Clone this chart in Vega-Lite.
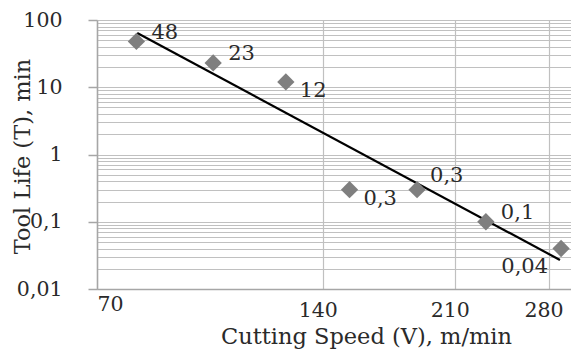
{
  "$schema": "https://vega.github.io/schema/vega-lite/v6.json",
  "autosize": {"type": "none"},
  "padding": {"left": 97, "top": 20, "right": 0, "bottom": 62},
  "width": 474,
  "height": 269,
  "background": "white",
  "config": {
    "view": {"stroke": null},
    "font": "DejaVu Serif",
    "text": {"font": "DejaVu Serif"},
    "axis": {"labelFont": "DejaVu Serif", "titleFont": "DejaVu Serif", "labelColor": "#2a2a2a", "titleColor": "#2a2a2a", "titleFontWeight": "normal"}
  },
  "data": {
    "values": [
      {"V": 79, "T": 48, "label": "48"},
      {"V": 100, "T": 23, "label": "23"},
      {"V": 125, "T": 12, "label": "12"},
      {"V": 152, "T": 0.3, "label": "0,3"},
      {"V": 187, "T": 0.3, "label": "0,3"},
      {"V": 231, "T": 0.1, "label": "0,1"},
      {"V": 291, "T": 0.04, "label": "0,04"}
    ]
  },
  "encoding": {
    "x": {
      "field": "V", "type": "quantitative",
      "scale": {"type": "log", "domain": [70, 300], "nice": false, "zero": false},
      "axis": {
        "title": "Cutting Speed (V), m/min",
        "values": [70, 140, 210, 280],
        "format": "d",
        "grid": true, "gridColor": "#c0c0c0", "gridWidth": 1.2,
        "ticks": false, "tickSize": 0,
        "domainColor": "#a6a6a6", "domainWidth": 1.5,
        "labelFont": "DejaVu Serif", "titleFont": "DejaVu Serif",
        "labelFontSize": 20.5, "labelOverlap": false,
        "labelPadding": {"condition": {"test": "datum.value == 70", "value": 5}, "value": 11.5},
        "labelOffset": {"condition": {"test": "datum.value == 70", "value": 0}, "value": -5},
        "titleFontSize": 22.5, "titleX": 269, "titleY": 54, "titleAlign": "center", "titleBaseline": "alphabetic"
      }
    },
    "y": {
      "field": "T", "type": "quantitative",
      "scale": {"type": "log", "domain": [0.01, 100], "nice": false, "zero": false},
      "axis": {
        "title": "Tool Life (T), min",
        "values": [0.01,0.02,0.03,0.04,0.05,0.06,0.07,0.08,0.09,0.1,0.2,0.3,0.4,0.5,0.6,0.7,0.8,0.9,1,2,3,4,5,6,7,8,9,10,20,30,40,50,60,70,80,90,100],
        "labelExpr": "abs(log(datum.value)/LN10 - round(log(datum.value)/LN10)) < 1e-6 ? replace(format(datum.value, '~g'), '.', ',') : ''",
        "labelOverlap": false,
        "grid": true, "gridColor": "#c0c0c0", "gridWidth": 1.2,
        "ticks": true, "tickSize": 9, "tickColor": "#a6a6a6", "tickWidth": 1.5,
        "tickOpacity": {"condition": {"test": "abs(log(datum.value)/LN10 - round(log(datum.value)/LN10)) < 1e-6", "value": 1}, "value": 0},
        "domainColor": "#a6a6a6", "domainWidth": 1.5,
        "labelFont": "DejaVu Serif", "titleFont": "DejaVu Serif",
        "labelFontSize": 20.5, "labelPadding": 26,
        "titleFontSize": 22.5, "titleX": -75, "titleY": 136, "titleAlign": "center", "titleBaseline": "middle", "titleAngle": 270
      }
    }
  },
  "layer": [
    {
      "data": {"values": [{"V": 79.2, "T": 64}, {"V": 290, "T": 0.027}]},
      "mark": {"type": "line", "color": "#000000", "strokeWidth": 2.2}
    },
    {
      "mark": {"type": "point", "shape": "diamond", "filled": true, "color": "#7f7f7f", "opacity": 1, "size": 300}
    },
    {
      "transform": [{"filter": {"field": "V", "oneOf": [79, 100, 231]}}],
      "mark": {"type": "text", "font": "DejaVu Serif", "align": "left", "baseline": "middle", "dx": 15, "dy": -8.5, "fontSize": 21, "color": "#2a2a2a"},
      "encoding": {"text": {"field": "label"}}
    },
    {
      "transform": [{"filter": {"field": "V", "oneOf": [187]}}],
      "mark": {"type": "text", "font": "DejaVu Serif", "align": "left", "baseline": "middle", "dx": 13, "dy": -13.5, "fontSize": 21, "color": "#2a2a2a"},
      "encoding": {"text": {"field": "label"}}
    },
    {
      "transform": [{"filter": {"field": "V", "oneOf": [125, 152]}}],
      "mark": {"type": "text", "font": "DejaVu Serif", "align": "left", "baseline": "middle", "dx": 14, "dy": 9.5, "fontSize": 21, "color": "#2a2a2a"},
      "encoding": {"text": {"field": "label"}}
    },
    {
      "transform": [{"filter": {"field": "V", "oneOf": [291]}}],
      "mark": {"type": "text", "font": "DejaVu Serif", "align": "right", "baseline": "middle", "dx": -13, "dy": 18.5, "fontSize": 21, "color": "#2a2a2a"},
      "encoding": {"text": {"field": "label"}}
    }
  ]
}
